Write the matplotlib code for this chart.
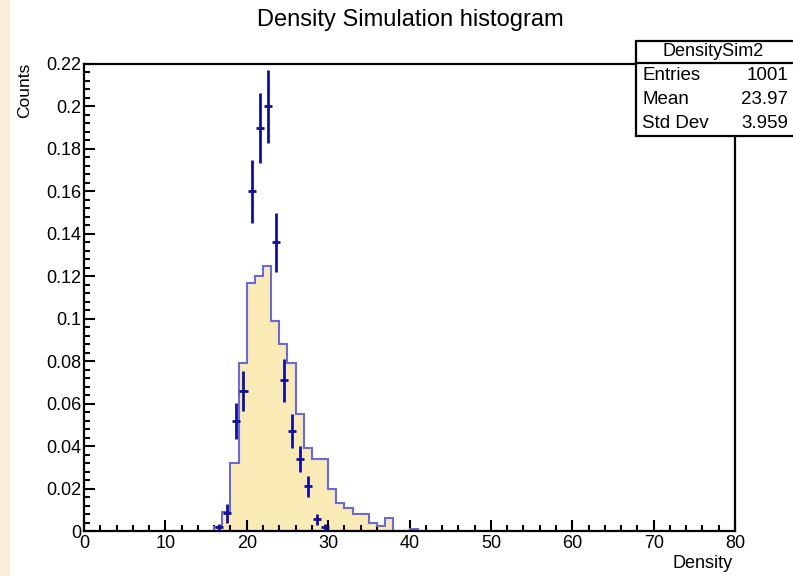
import matplotlib
matplotlib.use("Agg")
import matplotlib.pyplot as plt
from matplotlib.patches import Rectangle
from matplotlib.lines import Line2D
from matplotlib.ticker import MultipleLocator
import numpy as np

plt.rcParams['font.family'] = ['Liberation Sans', 'DejaVu Sans']

# histogram (bin width 1, lower edges)
bin_lo = [16, 17, 18, 19, 20, 21, 22, 23, 24, 25, 26, 27, 28, 29,
          30, 31, 32, 33, 34, 35, 36, 37, 38, 39, 40]
bin_vals = [0.002, 0.009, 0.032, 0.079, 0.117, 0.120, 0.125, 0.099, 0.088, 0.079,
            0.055, 0.039, 0.034, 0.034, 0.020, 0.013, 0.011, 0.008, 0.008, 0.004,
            0.0025, 0.006, 0.0, 0.0, 0.001]

# simulated points with errors
pt_x = [16.6, 17.6, 18.65, 19.6, 20.6, 21.6, 22.6, 23.6, 24.6, 25.55, 26.55, 27.55, 28.6, 29.6]
pt_y = [0.0017, 0.0083, 0.052, 0.066, 0.160, 0.190, 0.200, 0.136, 0.071, 0.047,
        0.034, 0.021, 0.0055, 0.0017]
pt_err = [0.0017, 0.0043, 0.0085, 0.0095, 0.015, 0.0165, 0.017, 0.014, 0.010, 0.008,
          0.006, 0.0048, 0.0027, 0.0015]

stats_name = "DensitySim2"
stats_rows = [("Entries", "1001"), ("Mean", "23.97"), ("Std Dev", "3.959")]

W, H = 793, 576
fig = plt.figure(figsize=(W / 100, H / 100), dpi=100, facecolor='white')
# beige strip at left border
fig.patches.append(Rectangle((0, 0), 10 / W, 1, transform=fig.transFigure,
                             facecolor='#f8efd6', edgecolor='none', zorder=0))

ax = fig.add_axes([84 / W, 1 - 531 / H, (735 - 84) / W, (531 - 64) / H])

edges = np.append(bin_lo, bin_lo[-1] + 1)
ax.stairs(bin_vals, edges, fill=True, facecolor='#faeab6', edgecolor='none', zorder=1)
ax.stairs(bin_vals, edges, baseline=0, fill=False, edgecolor='#6a6ad0', linewidth=1.5, zorder=2)

ax.errorbar(pt_x, pt_y, yerr=pt_err, xerr=0.5, fmt='none', ecolor='#10109c',
            elinewidth=2.0, capsize=0, zorder=3)

ax.set_xlim(0, 80)
ax.set_ylim(0, 0.22)
ax.xaxis.set_major_locator(MultipleLocator(10))
ax.xaxis.set_minor_locator(MultipleLocator(2))
ax.yaxis.set_minor_locator(MultipleLocator(0.004))
ax.set_yticks(np.arange(0, 0.2201, 0.02))
ax.set_yticklabels(['0', '0.02', '0.04', '0.06', '0.08', '0.1', '0.12', '0.14',
                    '0.16', '0.18', '0.2', '0.22'])
ax.tick_params(which='both', direction='in', width=1.5, labelsize=13,
               top=False, right=False)
ax.tick_params(which='major', length=8)
ax.tick_params(which='minor', length=4)
ax.tick_params(axis='x', pad=3)
ax.tick_params(axis='y', pad=2)
for s in ax.spines.values():
    s.set_linewidth(1.6)

fig.text(410 / W, 1 - 20 / H, "Density Simulation histogram", ha='center', va='center',
         fontsize=17)
fig.text(25 / W, 1 - 63 / H, "Counts", rotation=90, ha='center', va='top', fontsize=12.5)
fig.text(733 / W, 1 - 564 / H, "Density", ha='right', va='center', fontsize=13)

# stats box
bx0, by0, bx1, by1 = 636, 41, 800, 136
fig.patches.append(Rectangle((bx0 / W, 1 - by1 / H), (bx1 - bx0) / W, (by1 - by0) / H,
                             transform=fig.transFigure, facecolor='white',
                             edgecolor='black', linewidth=1.6, zorder=5))
fig.lines.append(Line2D([bx0 / W, 1], [1 - 63 / H, 1 - 63 / H], transform=fig.transFigure,
                        color='black', linewidth=1.6, zorder=6))
fig.text(713 / W, 1 - 52 / H, stats_name, ha='center', va='center', fontsize=13, zorder=7)
row_y = [76, 100, 123]
for (lab, val), yy in zip(stats_rows, row_y):
    fig.text(642 / W, 1 - yy / H, lab, ha='left', va='center', fontsize=13.5, zorder=7)
    fig.text(788 / W, 1 - yy / H, val, ha='right', va='center', fontsize=13.5, zorder=7)

fig.savefig("out.png", dpi=100)
